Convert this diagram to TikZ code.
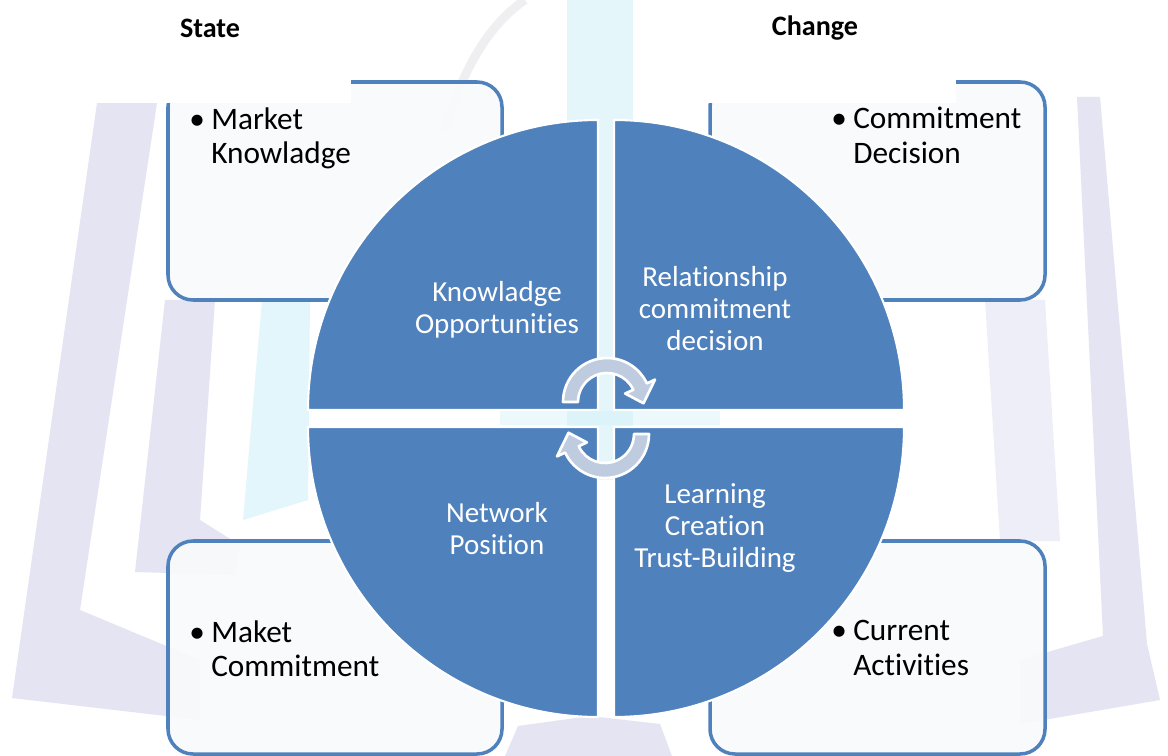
\documentclass[tikz,border=0pt]{standalone}
\usepackage{fontspec}
\setmainfont{Carlito}[Ligatures={NoCommon,NoRare}, Contextuals=NoAlternate, RawFeature={-liga;-clig;-calt;-dlig}]
\definecolor{quadblue}{HTML}{4F81BD}
\definecolor{arrowfill}{HTML}{BFCCE0}
\definecolor{boxwhite}{HTML}{F9FAFB}
\definecolor{wlav}{HTML}{D6D6EE}
\definecolor{wcyan}{HTML}{CDEFF8}
\definecolor{wgrey}{HTML}{DCDCE2}
\newcommand{\bulletmark}{\makebox[12.5pt][l]{\textbullet}}
\newcommand{\bulletgap}{\hspace*{12.5pt}}
\tikzset{
  quad/.style={fill=quadblue, draw=white, line width=1.2pt},
  infobox/.style={draw=quadblue, line width=2pt, rounded corners=0.5cm, fill=boxwhite, fill opacity=0.93},
  quadtext/.style={text=white, align=center, inner sep=0pt, font=\fontsize{16.5}{18.2}\selectfont},
  boxtext/.style={anchor=north west, align=left, inner sep=0pt, font=\fontsize{17.8}{19.8}\selectfont},
  headtext/.style={inner sep=0pt, font=\bfseries\fontsize{16}{19}\selectfont},
  cyclearrow/.style={fill=arrowfill, draw=white, line width=1.5pt, line join=round},
  wmark/.style={fill=wlav, opacity=0.65},
}
\begin{document}
\begin{tikzpicture}[x=0.02cm, y=-0.02cm]
  \useasboundingbox (0,0) rectangle (1168,756);
  \fill[white] (0,0) rectangle (1168,756);

  % faded watermark behind the diagram
  \fill[wmark] (97,103) -- (157,103) -- (80,610) -- (200,660) -- (200,720) -- (12,698) -- cycle;
  \fill[wmark] (165,300) -- (215,300) -- (200,520) -- (240,545) -- (235,575) -- (135,572) -- cycle;
  \fill[wcyan, opacity=0.55] (262,300) -- (310,300) -- (308,500) -- (243,520) -- cycle;
  \fill[wmark] (1077,97) -- (1100,97) -- (1147,644) -- (1160,700) -- (1020,724) -- (1020,660) -- (1103,636) -- cycle;
  \fill[wmark, opacity=0.4] (985,300) -- (1045,300) -- (1060,541) -- (1000,541) -- cycle;
  \fill[wmark] (505,756) -- (518,726) -- (590,716) -- (660,724) -- (672,756) -- cycle;
  \fill[wcyan, opacity=0.5] (567,0) rectangle (633,480);
  \fill[wcyan, opacity=0.4] (500,411) rectangle (720,425);
  \draw[wgrey, line width=5pt, opacity=0.45] (445,130) .. controls (465,60) and (495,20) .. (525,0);

  % corner boxes
  \draw[infobox] (168,82) rectangle (502,300);
  \draw[infobox] (710,82) rectangle (1045,300);
  \draw[infobox] (168,541) rectangle (502,754);
  \draw[infobox] (710,541) rectangle (1045,754);

  % header panels
  \fill[white] (0,0) rectangle (351,103);
  \fill[white] (674,0) rectangle (956,103);
  \node[headtext] (state) at (210,28) {State};
  \node[headtext] (change) at (815,28) {Change};

  % the four quadrants
  \draw[quad] (598,410) -- (308,410) arc[start angle=180, end angle=270, radius=290] -- cycle;
  \draw[quad] (614,410) -- (614,120) arc[start angle=270, end angle=360, radius=290] -- cycle;
  \draw[quad] (614,427) -- (904,427) arc[start angle=0, end angle=90, radius=290] -- cycle;
  \draw[quad] (598,427) -- (598,717) arc[start angle=90, end angle=180, radius=290] -- cycle;

  % cycle arrows in the middle
  \foreach \cx/\cy/\rot in {607/402/0, 605/434/180} {
    \begin{scope}[shift={(\cx,\cy)}, rotate=\rot]
      \draw[cyclearrow] (180:44) arc[start angle=180, end angle=335, radius=44]
        -- (335:53) -- (2:36.5) -- (335:20) -- (335:29)
        arc[start angle=335, end angle=180, radius=29] -- cycle;
    \end{scope}
  }

  % quadrant labels
  \node[quadtext] (knowq) at (497,310) {Knowladge\\Opportunities};
  \node[quadtext] (relq) at (715,309) {Relationship\\commitment\\decision};
  \node[quadtext] (netq) at (497,529) {Network\\Position};
  \node[quadtext] (learnq) at (715,528) {Learning\\Creation\\Trust-Building};

  % box labels
  \node[boxtext] (knowb) at (189,107) {\bulletmark Market\\\bulletgap Knowladge};
  \node[boxtext] (decb) at (831,107) {\bulletmark Commitment\\\bulletgap Decision};
  \node[boxtext] (commb) at (189,620) {\bulletmark Maket\\\bulletgap Commitment};
  \node[boxtext] (actb) at (831,620) {\bulletmark Current\\\bulletgap Activities};
\end{tikzpicture}
\end{document}
